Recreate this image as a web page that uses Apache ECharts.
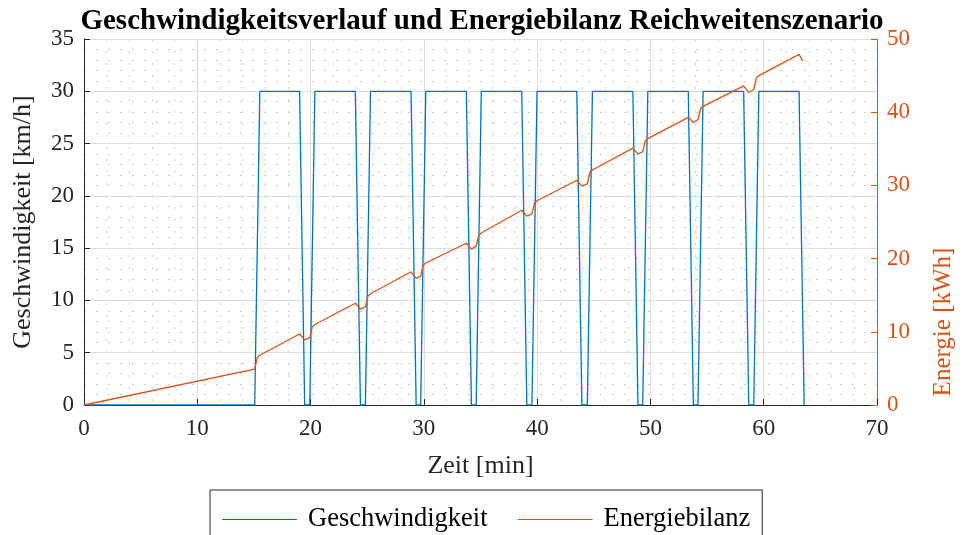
<!DOCTYPE html>
<html>
<head>
<meta charset="utf-8">
<script src="https://cdn.jsdelivr.net/npm/echarts@6/dist/echarts.min.js"></script>
<style>
html,body{margin:0;padding:0;background:#fff;overflow:hidden;}
#chart{width:964px;height:535px;}
</style>
</head>
<body>
<div id="chart"></div>
<script>
// Speed profile: time [min] and speed [km/h]
const speedTime = [0, 15.07, 15.52, 19.03, 19.48, 19.93, 20.38, 23.95, 24.4, 24.84, 25.29, 28.87, 29.32, 29.72, 30.17, 33.75, 34.2, 34.62, 35.07, 38.64, 39.09, 39.54, 39.99, 43.5, 43.95, 44.43, 44.88, 48.45, 48.9, 49.32, 49.77, 53.34, 53.79, 54.2, 54.65, 58.23, 58.68, 59.12, 59.57, 63.12, 63.57];
const speedVal = [0, 0, 30, 30, 0, 0, 30, 30, 0, 0, 30, 30, 0, 0, 30, 30, 0, 0, 30, 30, 0, 0, 30, 30, 0, 0, 30, 30, 0, 0, 30, 30, 0, 0, 30, 30, 0, 0, 30, 30, 0];

// Energy balance: time [min] and energy [kWh]
const energyTime = [0, 15.07, 15.3, 15.52, 19.03, 19.48, 19.93, 20.16, 20.38, 23.95, 24.4, 24.84, 25.07, 25.29, 28.87, 29.32, 29.72, 29.95, 30.17, 33.75, 34.2, 34.62, 34.85, 35.07, 38.64, 39.09, 39.54, 39.77, 39.99, 43.5, 43.95, 44.43, 44.66, 44.88, 48.45, 48.9, 49.32, 49.55, 49.77, 53.34, 53.79, 54.2, 54.43, 54.65, 58.23, 58.68, 59.12, 59.35, 59.57, 63.12, 63.45];
const energyVal = [0, 4.9, 6.5, 6.8, 9.7, 8.9, 9.2, 10.7, 11.0, 13.9, 13.1, 13.4, 14.9, 15.2, 18.2, 17.3, 17.6, 19.1, 19.4, 22.1, 21.3, 21.7, 23.2, 23.5, 26.6, 25.8, 26.1, 27.6, 27.9, 30.7, 29.9, 30.2, 31.8, 32.1, 35.1, 34.3, 34.6, 36.1, 36.4, 39.3, 38.6, 39.0, 40.5, 40.8, 43.6, 42.7, 43.1, 44.7, 45.0, 47.9, 47.0];

const seriesNames = ['Geschwindigkeit', 'Energiebilanz'];
const titleText = 'Geschwindigkeitsverlauf und Energiebilanz Reichweitenszenario';
const xName = 'Zeit [min]';
const yLeftName = 'Geschwindigkeit [km/h]';
const yRightName = 'Energie [kWh]';

const FONT = "'Liberation Serif', 'Times New Roman', serif";
const BLUE = '#0072BD';
const ORANGE = '#D95319';
const DARK = '#262626';

const chart = echarts.init(document.getElementById('chart'), null, {renderer: 'canvas', width: 964, height: 535});
const minorLine = {show: true, lineStyle: {color: '#cdcdcd', width: 1, type: [2, 10]}};
const majorLine = {show: true, lineStyle: {color: '#dedede', width: 1}};

chart.setOption({
  animation: false,
  backgroundColor: '#fff',
  title: {
    text: titleText,
    left: 'center',
    top: 2,
    textStyle: {fontFamily: FONT, fontWeight: 'bold', fontSize: 29, color: '#000'}
  },
  grid: {left: 84, right: 83, top: 39, bottom: 130, containLabel: false},
  legend: {
    data: seriesNames,
    left: 210,
    top: 490,
    icon: 'rect',
    itemWidth: 75,
    itemHeight: 1.2,
    itemGap: 30,
    padding: [16, 12, 30, 12],
    borderColor: DARK,
    borderWidth: 1,
    textStyle: {fontFamily: FONT, fontSize: 26.5, color: '#000', padding: [0, 0, 0, 6]}
  },
  xAxis: {
    type: 'value',
    min: 0, max: 70, interval: 10,
    name: xName,
    nameLocation: 'middle',
    nameGap: 48,
    nameTextStyle: {fontFamily: FONT, fontSize: 26, color: DARK},
    axisLine: {show: true, onZero: false, lineStyle: {color: DARK, width: 1}},
    axisTick: {show: true, inside: true, length: 6, lineStyle: {color: DARK}},
    axisLabel: {fontFamily: FONT, fontSize: 23, color: DARK, margin: 12},
    splitLine: majorLine,
    minorTick: {show: false, splitNumber: 5},
    minorSplitLine: minorLine
  },
  yAxis: [{
    type: 'value',
    min: 0, max: 35, interval: 5,
    position: 'left',
    name: yLeftName,
    nameLocation: 'middle',
    nameGap: 48,
    nameTextStyle: {fontFamily: FONT, fontSize: 26, color: DARK},
    axisLine: {show: true, onZero: false, lineStyle: {color: DARK, width: 1}},
    axisTick: {show: true, inside: true, length: 6, lineStyle: {color: DARK}},
    axisLabel: {fontFamily: FONT, fontSize: 23, color: DARK, margin: 10},
    splitLine: majorLine,
    minorTick: {show: false, splitNumber: 5},
    minorSplitLine: minorLine
  }, {
    type: 'value',
    min: 0, max: 50, interval: 10,
    position: 'right',
    name: yRightName,
    nameLocation: 'middle',
    nameGap: 54,
    nameRotate: 90,
    nameTextStyle: {fontFamily: FONT, fontSize: 25, color: ORANGE, padding: [0, 200, 0, 0]},
    axisLine: {show: true, onZero: false, lineStyle: {color: ORANGE, width: 1}},
    axisTick: {show: true, inside: true, length: 6, lineStyle: {color: ORANGE}},
    axisLabel: {fontFamily: FONT, fontSize: 23, color: ORANGE, margin: 10},
    splitLine: {show: false}
  }],
  series: [{
    name: seriesNames[0],
    type: 'line',
    yAxisIndex: 0,
    symbol: 'none',
    data: speedTime.map((t, i) => [t, speedVal[i]]),
    lineStyle: {color: BLUE, width: 1.3},
    itemStyle: {color: BLUE},
    z: 3
  }, {
    name: seriesNames[1],
    type: 'line',
    yAxisIndex: 1,
    symbol: 'none',
    data: energyTime.map((t, i) => [t, energyVal[i]]),
    lineStyle: {color: ORANGE, width: 1.3},
    itemStyle: {color: ORANGE},
    z: 4
  }]
});
</script>
</body>
</html>
